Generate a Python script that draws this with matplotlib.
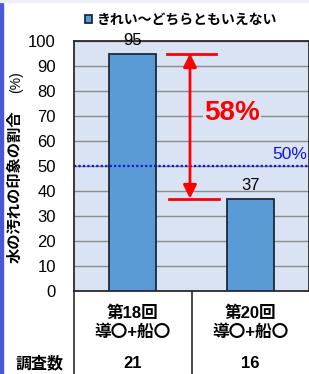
import matplotlib
matplotlib.use('Agg')
import matplotlib.pyplot as plt
from matplotlib.patches import Rectangle
from matplotlib.lines import Line2D

categories = ['第18回\n導〇+船〇', '第20回\n導〇+船〇']
values = [95, 37]
counts = [21, 16]
series_name = 'きれい～どちらともいえない'
ylabel_main = '水の汚れの印象の割合'
ylabel_unit = '(%)'
count_label = '調査数'
ref_value = 50
ref_label = '50%'
diff_label = '58%'
yticks = list(range(0, 101, 10))

FONTS = ['Liberation Sans', 'Noto Sans CJK JP']
plt.rcParams['font.family'] = FONTS

W, H = 309, 374
fig = plt.figure(figsize=(W / 100, H / 100), dpi=100)
fig.patch.set_facecolor('white')
fig.patches.append(Rectangle((0, 0), 3 / W, 1, transform=fig.transFigure,
                             color='#4a58d6', zorder=0))
fig.patches.append(Rectangle((0, 1 - 2 / H), 1, 2 / H, transform=fig.transFigure,
                             color='#eceef8', zorder=0))

ax = fig.add_axes([74 / W, 1 - 291 / H, 235 / W, 250 / H])
ax.set_facecolor('#dae3f3')
x = list(range(len(categories)))
bars = ax.bar(x, values, width=0.4, color='#5b9bd5', edgecolor='#1c2a38',
              linewidth=1.3, zorder=3, label=series_name)
ax.set_xlim(-0.5, 1.5)
ax.set_ylim(0, 100)
ax.set_yticks(yticks)
ax.set_xticks([])
ax.grid(axis='y', color='#8c8c8c', linewidth=1, zorder=1)
ax.tick_params(axis='y', length=0, pad=13, labelsize=12)
for s in ax.spines.values():
    s.set_color('#2a2a2a')
    s.set_linewidth(1.3)

ax.bar_label(bars, labels=[str(v) for v in values], padding=4, fontsize=12)

# reference line
ax.axhline(ref_value, color='#0a14e6', linestyle=(0, (1, 1)), linewidth=1.6, zorder=4)
ax.text(1.483, ref_value + 4.6, ref_label, color='#0a14e6', fontsize=12.5,
        ha='right', va='center', zorder=5)

# difference arrow
ax.plot([0.29, 0.71], [values[0], values[0]], color='#ff0000', lw=2, zorder=5)
ax.plot([0.31, 0.73], [values[1], values[1]], color='#ff0000', lw=2, zorder=5)
ax.annotate('', xy=(0.487, values[1]), xytext=(0.487, values[0]),
            arrowprops=dict(arrowstyle='<|-|>', color='#ff0000', lw=2,
                            mutation_scale=20, shrinkA=0, shrinkB=0), zorder=5)
ax.text(0.845, 71.2, diff_label, color='#ff0000', fontsize=20, fontweight='bold',
        ha='center', va='center', zorder=5,
        bbox=dict(facecolor='#dae3f3', edgecolor='none', pad=1))

# table below axis
trans = ax.get_xaxis_transform()
for xv in [-0.5, 0.5]:
    ax.add_line(Line2D([xv, xv], [0, -0.34], transform=trans, color='#2a2a2a',
                       lw=1.2, clip_on=False))
for xi, cat, n in zip(x, categories, counts):
    ax.text(xi, (291 - 322.5) / 250, cat, transform=trans, ha='center', va='center',
            fontsize=12, fontweight='bold', linespacing=1.25)
    ax.text(xi, (291 - 363) / 250, str(n), transform=trans, ha='center', va='center',
            fontsize=12, fontweight='bold')
fig.text(40 / W, 1 - 363 / H, count_label, ha='center', va='center',
         fontsize=11.5, fontweight='bold')

# y label
fig.text(15 / W, 1 - 263 / H, ylabel_main, rotation=90, ha='center', va='bottom',
         fontsize=11, fontweight='bold')
fig.text(16 / W, 1 - 93 / H, ylabel_unit, rotation=90, ha='center', va='bottom',
         fontsize=10)

# legend
fig.legend(handles=[bars], labels=[series_name], loc='center',
           bbox_to_anchor=(181 / W, 1 - 20 / H), frameon=False,
           handlelength=0.55, handleheight=0.55, handletextpad=0.35,
           prop={'weight': 'bold', 'size': 10, 'family': FONTS},
           borderpad=0, borderaxespad=0)

fig.savefig('out.png', dpi=100)
